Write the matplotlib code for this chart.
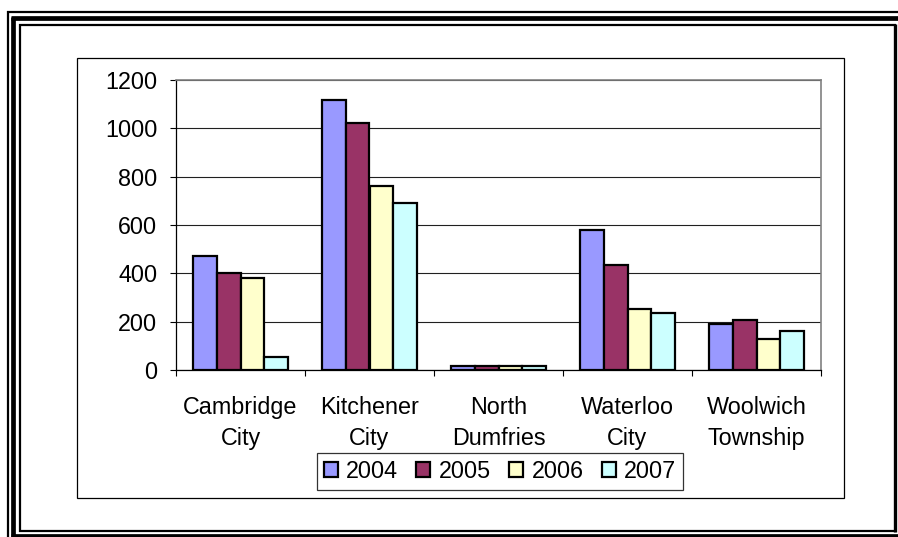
import matplotlib
matplotlib.use("Agg")
import matplotlib.pyplot as plt
from matplotlib.lines import Line2D
from matplotlib.patches import Rectangle
import numpy as np

# Counts per municipality and year
municipalities = ["Cambridge\nCity", "Kitchener\nCity", "North\nDumfries",
                  "Waterloo\nCity", "Woolwich\nTownship"]
years = ["2004", "2005", "2006", "2007"]
values_2004 = [472, 1119, 15, 581, 189]
values_2005 = [400, 1021, 15, 435, 208]
values_2006 = [381, 763, 15, 254, 127]
values_2007 = [54, 690, 15, 236, 163]
series = [values_2004, values_2005, values_2006, values_2007]
colors = ["#9999FF", "#993366", "#FFFFCC", "#CCFFFF"]
yticks = [0, 200, 400, 600, 800, 1000, 1200]

plt.rcParams["font.family"] = ["Liberation Sans", "DejaVu Sans"]
FS = 16.8

W, H = 898, 537
fig = plt.figure(figsize=(W / 100, H / 100), dpi=100)


def px(x, y):
    # pixel position (from top-left) -> figure fraction
    return x / W, 1 - y / H


# triple-line page frame
def frame_line(x0, y0, x1, y1, lw):
    (a, b), (c, d) = px(x0, y0), px(x1, y1)
    fig.add_artist(Line2D([a, c], [b, d], color="black", lw=lw,
                          transform=fig.transFigure, solid_capstyle="butt"))


frame_line(8, 11, 8, 537, 1.6)
frame_line(7, 12, 898, 12, 1.6)
frame_line(13, 17, 13, 537, 3.4)
frame_line(11, 17.5, 898, 17.5, 3.4)
frame_line(11, 535.5, 898, 535.5, 3.4)
frame_line(20, 24, 20, 532, 1.6)
frame_line(19, 24.5, 896, 24.5, 1.6)
frame_line(895, 24, 895, 532, 2.4)
frame_line(19, 531, 896, 531, 1.6)

# chart area box
x0, y0 = px(77, 498)
fig.add_artist(Rectangle((x0, y0), 767 / W, 440 / H, transform=fig.transFigure,
                         fill=False, edgecolor="black", lw=0.9))

ax = fig.add_axes([176 / W, (H - 370) / H, 645 / W, 290 / H])

n = len(municipalities)
x = np.arange(n) + 0.5
w = 0.186
for j, (vals, c) in enumerate(zip(series, colors)):
    ax.bar(x + (j - 1.5) * w, vals, w, color=c, edgecolor="black",
           linewidth=1.6, label=years[j], zorder=3)

ax.set_xlim(0, n)
ax.set_ylim(0, 1200)
ax.set_yticks(yticks)
ax.set_yticklabels([str(t) for t in yticks], fontsize=FS)
ax.yaxis.grid(True, color="#202020", lw=0.8)
ax.set_axisbelow(True)

# tick marks at category boundaries, labels centred on groups
ax.set_xticks(np.arange(n + 1))
ax.set_xticklabels([])
ax.tick_params(axis="x", direction="out", length=4.5, width=0.8)
ax.tick_params(axis="y", direction="out", length=4.5, width=0.8, pad=9)
for xi, name in zip(x, municipalities):
    ax.annotate(name, xy=(xi, 0), xycoords=("data", "axes fraction"),
                xytext=(0, -19), textcoords="offset points",
                ha="center", va="top", fontsize=FS, linespacing=1.45)

for side in ["top", "right"]:
    ax.spines[side].set_color("#808080")
    ax.spines[side].set_linewidth(1.2)
for side in ["left", "bottom"]:
    ax.spines[side].set_color("black")
    ax.spines[side].set_linewidth(0.9)

leg = fig.legend(loc="center", bbox_to_anchor=px(500, 471.5), ncol=4,
                 fontsize=FS, frameon=True, fancybox=False, shadow=False,
                 handlelength=0.6, handleheight=0.6, handletextpad=0.35,
                 columnspacing=0.8, borderpad=0.3, borderaxespad=0)
leg.get_frame().set_edgecolor("black")
leg.get_frame().set_linewidth(0.9)

fig.savefig("out.png", dpi=100)
